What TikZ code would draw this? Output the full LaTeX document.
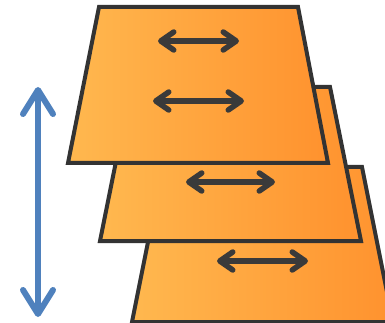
\documentclass[tikz,border=0pt]{standalone}
\usetikzlibrary{arrows.meta}
\definecolor{orL}{HTML}{FFB84F}
\definecolor{orR}{HTML}{FF922E}
\definecolor{edge}{HTML}{333333}
\definecolor{darr}{HTML}{3A3A3A}
\definecolor{barr}{HTML}{4F81BD}
\tikzset{
  layer/.style={left color=orL, right color=orR, draw=edge, line width=4pt, line join=miter},
  harrow/.style={draw=darr, line width=5.5pt, line cap=round,
    {Straight Barb[length=13pt,width=18pt,line cap=round,round]}-{Straight Barb[length=13pt,width=18pt,line cap=round,round]}},
  varrow/.style={draw=barr, line width=6pt, line cap=round,
    {Straight Barb[length=24pt,width=30pt,line cap=round,round]}-{Straight Barb[length=24pt,width=30pt,line cap=round,round]}}
}
\begin{document}
\begin{tikzpicture}[x=1pt,y=-1pt]
\useasboundingbox (0,0) rectangle (385,323);
\begin{scope}
\clip (0,0) rectangle (385,323);
% bottom layer
\draw[layer] (163,167) -- (362,167) -- (393,322) -- (132,322) -- cycle;
% middle layer
\draw[layer] (131,87) -- (330,87) -- (361,241) -- (100,241) -- cycle;
% top layer
\draw[layer] (99,7) -- (298,7) -- (328,163) -- (68,163) -- cycle;
\end{scope}
\coordinate (a1l) at (158,41); \coordinate (a1r) at (239,41);
\coordinate (a2l) at (153,101); \coordinate (a2r) at (244,101);
\coordinate (a3l) at (186,182); \coordinate (a3r) at (275,182);
\coordinate (a4l) at (217,261); \coordinate (a4r) at (308,261);
\coordinate (vt) at (38,87); \coordinate (vb) at (38,317);
\draw[harrow] (a1l) -- (a1r);
\draw[harrow] (a2l) -- (a2r);
\draw[harrow] (a3l) -- (a3r);
\draw[harrow] (a4l) -- (a4r);
\draw[varrow] (vt) -- (vb);
\end{tikzpicture}
\end{document}
